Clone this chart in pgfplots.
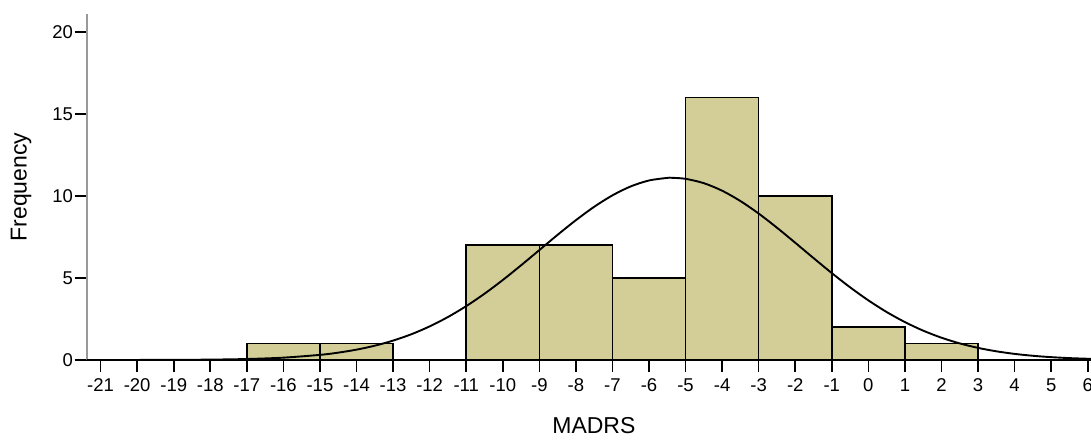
\documentclass[border=0pt]{standalone}
\usepackage{fontspec}
\setmainfont{Liberation Sans}
\usepackage{pgfplots}
\pgfplotsset{compat=1.18}
\definecolor{barcol}{RGB}{211,206,151}
\begin{document}
\begin{tikzpicture}
\useasboundingbox (-86.7pt,-79pt) rectangle (1004.3pt,360pt);
\begin{axis}[
  scale only axis,
  width=1004.3pt, height=346pt,
  at={(0,0)}, anchor=south west,
  xmin=-21.38, xmax=6.09,
  ymin=0, ymax=21.08,
  axis lines*=left,
  x axis line style={black, line width=1.4pt},
  y axis line style={black!40, line width=2.2pt},
  xtick={-21,-20,...,6},
  ytick={0,5,10,15,20},
  tick align=outside,
  major tick length=12pt,
  tick style={black, line width=1.6pt},
  xtick pos=bottom, ytick pos=left,
  /pgf/number format/assume math mode=true,
  ticklabel style={font=\fontsize{18.5}{20}\selectfont},
  yticklabel style={inner sep=1.5pt},
  xticklabel style={inner sep=6.5pt},
  xlabel={MADRS}, ylabel={Frequency},
  label style={font=\fontsize{23}{25}\selectfont},
  xlabel style={at={(axis description cs:0.505,-0.19)}, anchor=center},
  ylabel style={at={(axis description cs:-0.0654,0.5)}, anchor=center, rotate=0},
]
\addplot[ybar interval, fill=barcol, draw=black, line width=1.5pt]
  coordinates {(-17,1) (-15,1) (-13,0)};
\addplot[ybar interval, fill=barcol, draw=black, line width=1.5pt]
  coordinates {(-11,7) (-9,7) (-7,5) (-5,16) (-3,10) (-1,2) (1,1) (3,0)};
\addplot[black, line width=1.9pt, smooth, no marks] coordinates {
(-21.38,0.0006) (-20,0.0029) (-19,0.0086) (-18,0.0238) (-17,0.0607)
(-16,0.143) (-15,0.3126) (-14.5,0.448) (-14,0.6315) (-13.5,0.872)
(-13,1.182) (-12.5,1.569) (-12,2.047) (-11.5,2.618) (-11,3.282)
(-10.5,4.037) (-10,4.872) (-9.5,5.768) (-9,6.696) (-8.5,7.626)
(-8,8.518) (-7.5,9.333) (-7,10.031) (-6.5,10.576) (-6,10.937)
(-5.5,11.094) (-5.38,11.1) (-5,11.038) (-4.5,10.773) (-4,10.314)
(-3.5,9.685) (-3,8.921) (-2.5,8.060) (-2,7.143) (-1.5,6.210)
(-1,5.295) (-0.5,4.429) (0,3.634) (0.5,2.924) (1,2.309)
(1.5,1.788) (2,1.358) (2.5,1.011) (3,0.739) (3.5,0.530)
(4,0.3726) (4.5,0.257) (5,0.1737) (5.5,0.1153) (6.09,0.0694)
};
\end{axis}
\end{tikzpicture}
\end{document}
